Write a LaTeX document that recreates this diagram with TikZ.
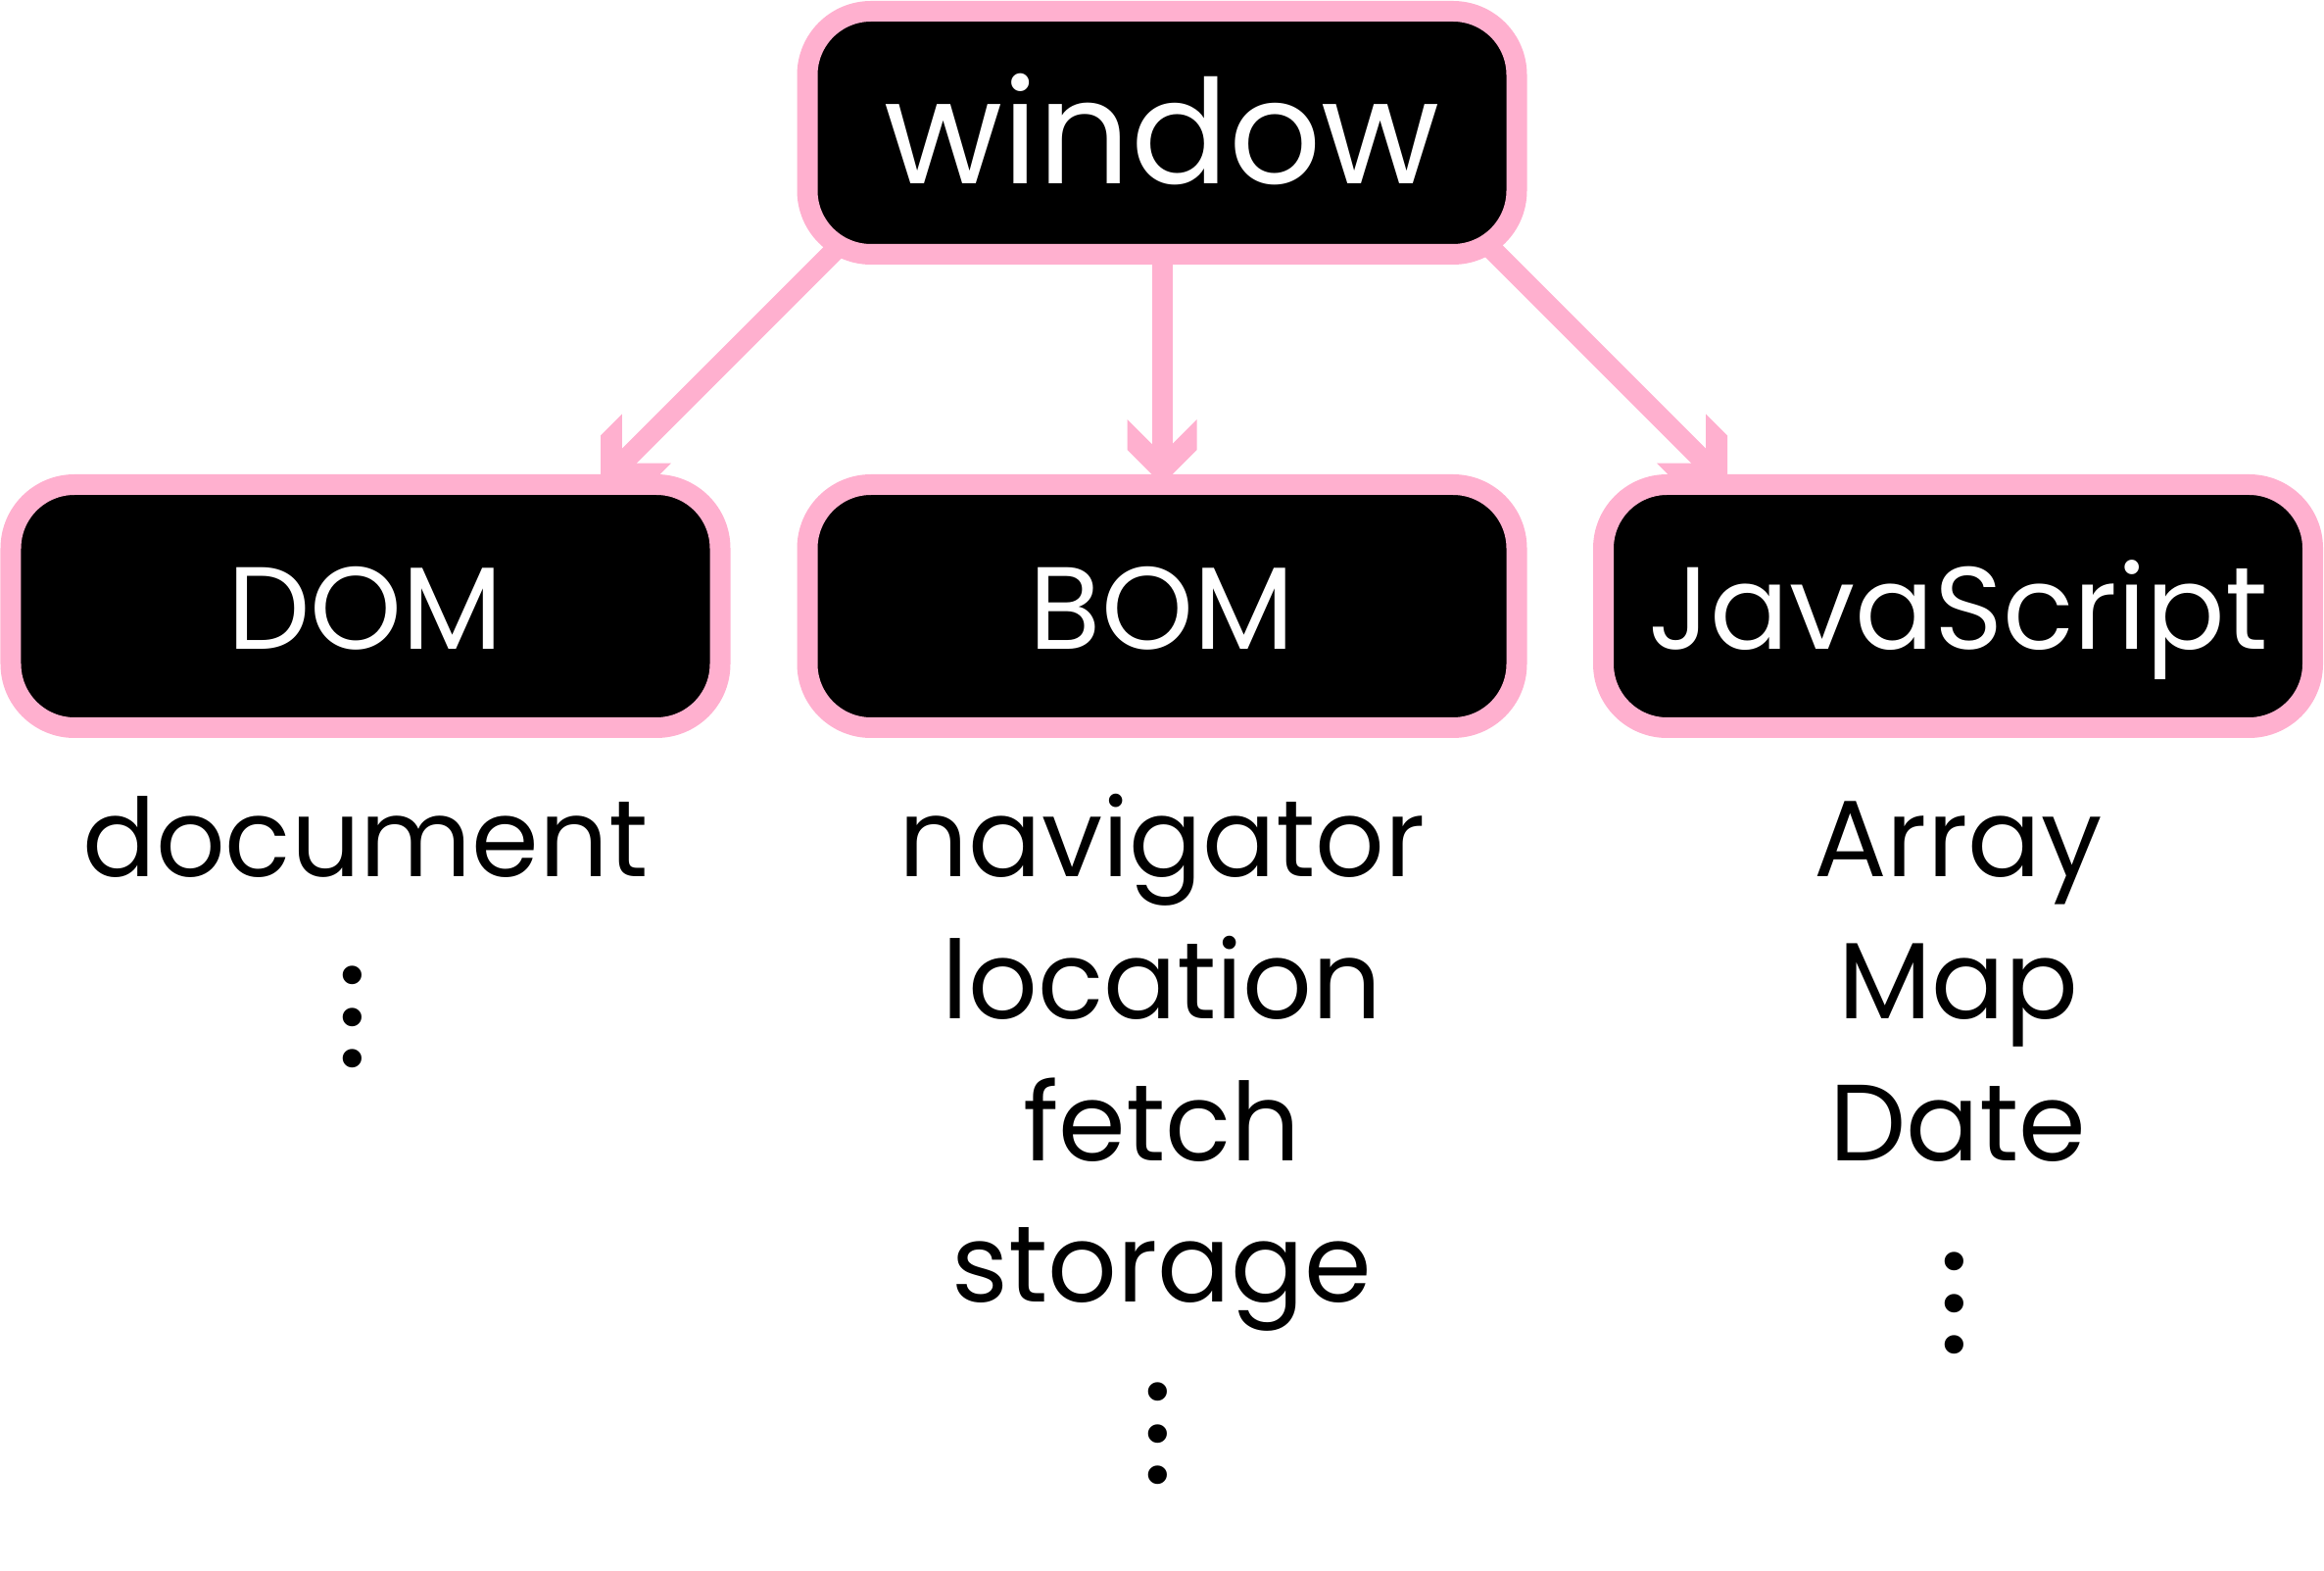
\documentclass[tikz,border=0pt]{standalone}
\usepackage{fontspec}
\setmainfont{Poppins}
\usetikzlibrary{calc,backgrounds,arrows.meta}

\definecolor{boxpink}{RGB}{255,176,207}

% open double barb, ends cut along the shaft
\pgfdeclarearrow{
  name = Barbs,
  setup code = {
    \pgfarrowssettipend{0pt}
    \pgfarrowssetlineend{-8pt}
    \pgfarrowssetbackend{-18.92pt}
  },
  drawing code = {
    \pgfpathmoveto{\pgfqpoint{0pt}{0pt}}
    \pgfpathlineto{\pgfqpoint{-10.1pt}{10.1pt}}
    \pgfpathlineto{\pgfqpoint{-18.92pt}{10.1pt}}
    \pgfpathlineto{\pgfqpoint{-11.81pt}{2.99pt}}
    \pgfpathlineto{\pgfqpoint{-11.81pt}{-2.99pt}}
    \pgfpathlineto{\pgfqpoint{-18.92pt}{-10.1pt}}
    \pgfpathlineto{\pgfqpoint{-10.1pt}{-10.1pt}}
    \pgfpathclose
    \pgfusepathqfill
  }
}

\newcommand{\moredots}{.\kern2.8pt.\kern2.8pt.}

\tikzset{
  box/.style={draw=boxpink, fill=black, text=white, line width=0.21cm,
    rounded corners=0.65cm, minimum width=7.24cm, minimum height=2.48cm,
    outer sep=0pt, inner sep=0pt, text height=0.89cm, text depth=0pt,
    font=\fontsize{34}{41}\selectfont},
  link/.style={color=boxpink, line width=0.21cm, -Barbs},
  item/.style={anchor=base, font=\fontsize{31.5}{38}\selectfont},
  more/.style={rotate=90, inner sep=0pt, font=\fontsize{44}{50}\selectfont},
}

\begin{document}
\begin{tikzpicture}

\useasboundingbox (0,0) rectangle (23.72,-16.03);

\node[box, text height=1.05cm, font=\fontsize{42}{50}\selectfont] (win) at (11.86,-1.355) {window};

\node[box] (dom) at (3.73,-6.185) {DOM};
\node[box] (bom) at (11.86,-6.185) {BOM};
\node[box] (js) at (19.985,-6.185) {JavaScript};

\begin{scope}[on background layer]
\draw[link] (win) -- (bom.north);
\draw[link] ($(dom.north east)+(1.58,2.8)$) -- ($(dom.north east)+(-1.22,0)$);
\draw[link] ($(js.north west)+(-1.535,2.8)$) -- ($(js.north west)+(1.265,0)$);
\end{scope}

% DOM
\node[item] (doc) at ($(dom.south)+(0,-1.525)$) {document};
\node[more] (domdots) at ($(dom.south)+(-0.13,-2.955)$) {\moredots};

% BOM
\node[item] (nav) at ($(bom.south)+(0,-1.525)$) {navigator};
\node[item] (loc) at ($(nav.base)+(0,-1.45)$) {location};
\node[item] (fet) at ($(loc.base)+(0,-1.445)$) {fetch};
\node[item] (sto) at ($(fet.base)+(0,-1.44)$) {storage};
\node[more] (bomdots) at ($(bom.south)+(-0.04,-7.205)$) {\moredots};

% JavaScript
\node[item] (arr) at ($(js.south)+(0,-1.525)$) {Array};
\node[item] (map) at ($(arr.base)+(0,-1.45)$) {Map};
\node[item] (dat) at ($(map.base)+(0,-1.445)$) {Date};
\node[more] (jsdots) at ($(js.south)+(-0.035,-5.875)$) {\moredots};

\end{tikzpicture}
\end{document}
